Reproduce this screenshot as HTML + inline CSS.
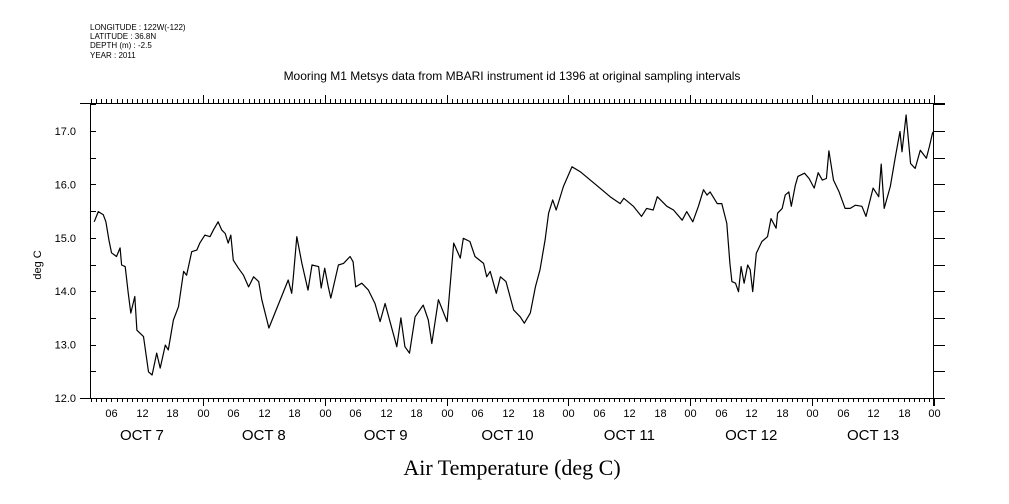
<!DOCTYPE html>
<html><head><meta charset="utf-8"><style>
html,body{margin:0;padding:0;background:#fff;}
svg{display:block;font-family:"Liberation Sans",sans-serif;}
</style></head><body>
<svg id="chart" width="1009" height="504" viewBox="0 0 1009 504">
<g font-size="8" fill="#000">
<text x="90" y="30">LONGITUDE : 122W(-122)</text>
<text x="90" y="39">LATITUDE : 36.8N</text>
<text x="90" y="48">DEPTH (m) : -2.5</text>
<text x="90" y="58">YEAR : 2011</text>
</g>
<text x="512" y="80" font-size="12" text-anchor="middle">Mooring M1 Metsys data from MBARI instrument id 1396 at original sampling intervals</text>
<text x="512" y="475" font-size="22" text-anchor="middle" font-family="Liberation Serif, serif">Air Temperature (deg C)</text>
<text x="0" y="0" font-size="11" text-anchor="middle" transform="translate(41,265) rotate(-90)">deg C</text>
<g id="axes" stroke="#000" stroke-width="1" fill="none" shape-rendering="crispEdges"></g>
<g id="labels" font-size="11" fill="#000"></g>
<polyline id="series" fill="none" stroke="#000" stroke-width="1.2" stroke-linejoin="round"></polyline>
</svg>
<script>
// hours since OCT 7 00:00
const hours = [2.6,3.4,4.4,4.9,5.5,6,7,7.7,8,8.7,9.3,9.8,10.6,11,12.3,13.3,14,14.9,15.6,16.6,17.2,18.2,19.2,20.2,20.8,21.8,22.8,23.4,24.4,25.4,26.1,27,27.7,28.4,29,29.5,30,31,32,33,34,35,35.6,37,40.8,41.5,41.8,42.5,43.5,44.7,45.5,46.8,47.3,48,48.7,49.2,50.7,51.7,53,53.6,54.1,55.3,56.6,57.9,58.9,59.9,62.2,63,63.8,64.7,65.8,67.4,68.4,69.1,70.4,72.1,73.4,74.7,75.3,76.6,77.6,79.3,79.9,80.6,81.8,82.6,83.7,85.2,86.5,87.3,88.5,89.5,90.4,91.4,92.1,92.9,93.6,95,96.7,98.3,100.3,102.2,104.2,106.2,106.9,108.8,110.4,111.4,112.7,113.5,115.4,116.7,118.4,119.3,120.5,121.6,122.6,123.3,123.9,125.3,126.2,127.2,127.8,128.2,128.9,129.5,130,130.6,131.3,131.8,132.3,133,134.1,135.2,135.9,136.9,137.2,138.1,138.7,139.4,139.9,140.7,141.2,142.5,143.4,144.4,145.2,146,146.8,147.3,148.2,149.3,150.5,151.5,152.5,153.8,154.6,156,157.1,157.6,158.2,159.4,160.4,161.3,161.7,162.5,163.4,164.3,165.3,166.5,167.1,167.7,168];
const temps = [15.30,15.49,15.43,15.30,14.96,14.72,14.65,14.81,14.49,14.46,13.97,13.59,13.90,13.27,13.15,12.49,12.43,12.84,12.56,12.99,12.90,13.46,13.71,14.37,14.30,14.74,14.77,14.90,15.05,15.02,15.15,15.30,15.15,15.08,14.90,15.05,14.58,14.43,14.30,14.08,14.27,14.18,13.84,13.31,14.21,13.96,14.24,15.02,14.52,14.02,14.49,14.46,14.06,14.43,14.08,13.87,14.49,14.52,14.65,14.55,14.08,14.15,14.02,13.77,13.43,13.77,12.96,13.50,12.96,12.84,13.52,13.74,13.46,13.02,13.84,13.43,14.90,14.62,14.99,14.93,14.65,14.52,14.27,14.37,13.96,14.27,14.18,13.65,13.52,13.40,13.59,14.08,14.40,14.96,15.46,15.71,15.52,15.96,16.33,16.24,16.08,15.93,15.77,15.64,15.74,15.59,15.40,15.55,15.52,15.77,15.59,15.52,15.33,15.49,15.30,15.59,15.90,15.80,15.86,15.64,15.64,15.27,14.52,14.18,14.15,13.99,14.46,14.15,14.49,14.40,13.99,14.71,14.93,15.02,15.36,15.18,15.46,15.55,15.80,15.86,15.59,15.99,16.15,16.21,16.11,15.93,16.22,16.08,16.11,16.63,16.08,15.86,15.55,15.55,15.61,15.59,15.40,15.93,15.77,16.38,15.55,15.96,16.52,16.99,16.61,17.30,16.39,16.30,16.64,16.49,16.71,16.96,17.0];
const yTicks = [12.0,13.0,14.0,15.0,16.0,17.0];
const hourLabels = ["06","12","18","00"];
const dayLabels = ["OCT  7","OCT  8","OCT  9","OCT 10","OCT 11","OCT 12","OCT 13"];

const X0=81, HPX=(934-81)/168, YB=398, YPX=53.4;
const L=90, R=933, T=103, B=398;
function xs(h){return X0+h*HPX;}
function ys(v){return YB-(v-12)*YPX;}
const NS="http://www.w3.org/2000/svg";
const axes=document.getElementById('axes'), labels=document.getElementById('labels');
function ln(x1,y1,x2,y2,name){const e=document.createElementNS(NS,'line');e.setAttribute('x1',x1);e.setAttribute('y1',y1);e.setAttribute('x2',x2);e.setAttribute('y2',y2);


axes.appendChild(e);}
function tx(x,y,s,anchor,size,name){const e=document.createElementNS(NS,'text');e.setAttribute('x',x);e.setAttribute('y',y);e.setAttribute('text-anchor',anchor);if(size)e.setAttribute('font-size',size);e.textContent=s;


labels.appendChild(e);}
ln(80,T+0.5,945,T+0.5,'top-axis');
ln(80,B+0.5,945,B+0.5,'bottom-axis');
ln(L+0.5,T,L+0.5,B,'left-axis');
ln(R+0.5,T,R+0.5,B+8,'right-axis');
for(let h=2;h<=168;h++){const x=Math.round(xs(h))+0.5;const major=h%24===0;
 ln(x,T,x,T-(major?8:4),'top-tick');
 ln(x,B,x,B+(major?8:4),'bottom-tick');
 if(h%6===0) tx(x,417,hourLabels[(h/6-1)%4],'middle',11,'x-hour-label');}
for(let v=12;v<=17.51;v+=0.5){const y=Math.round(ys(v))+0.5;
 ln(L,y,L+6,y,'left-tick');ln(R,y,R+12,y,'right-tick');}
yTicks.forEach(v=>tx(76,ys(v)+4,v.toFixed(1),'end',11,'y-tick-label'));
dayLabels.forEach((d,i)=>tx(xs(12+24*i),440,d,'middle',15,'x-day-label'));
document.getElementById('series').setAttribute('points',hours.map((h,i)=>xs(h).toFixed(1)+','+ys(temps[i]).toFixed(1)).join(' '));
</script>
</body></html>
